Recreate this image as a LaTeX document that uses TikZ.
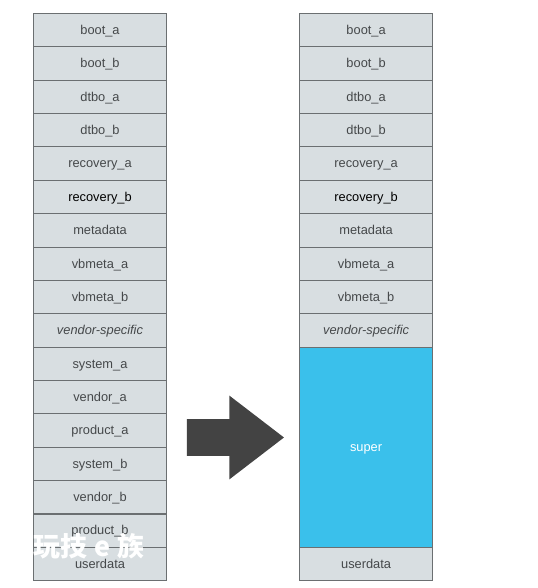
\documentclass[tikz,border=0pt]{standalone}
\usepackage{fontspec}
\setmainfont{Liberation Sans}
\newfontfamily\cjkfont{Noto Sans CJK SC}
\usetikzlibrary{shapes.arrows}
\definecolor{partfill}{HTML}{D8DEE1}
\definecolor{partline}{HTML}{6B6F71}
\definecolor{partink}{HTML}{45484A}
\definecolor{superfill}{HTML}{3AC0EB}
\definecolor{arrowfill}{HTML}{434343}

\begin{document}
\begin{tikzpicture}[
		part/.style  ={rectangle,draw=partline,fill=partfill,line width=0.4pt,minimum width=2.664cm,minimum height=0.6674cm,inner sep=0pt,outer sep=0pt,text=partink,font=\fontsize{7.3}{9}\selectfont,text height=1.5ex,text depth=0.55ex},
		bigpart/.style={part,fill=superfill,minimum height=3.9936cm,text=white},
		bigarrow/.style={single arrow,fill=arrowfill,minimum height=1.94cm,inner xsep=0pt,inner ysep=0.36cm,outer sep=0pt,single arrow head extend=0.47cm,single arrow tip angle=75}
		]

		% ---- page size ----
		\useasboundingbox (0,0) rectangle (10.74,11.76);

		% ---- left column: 17 partitions ----
		\node[part] (lboota)    at (2.0, 11.160) {boot\_a};
		\node[part] (lbootb)    at (2.0, 10.493) {boot\_b};
		\node[part] (ldtboa)    at (2.0,  9.825) {dtbo\_a};
		\node[part] (ldtbob)    at (2.0,  9.158) {dtbo\_b};
		\node[part] (lrecova)   at (2.0,  8.491) {recovery\_a};
		\node[part,text=black] (lrecovb) at (2.0, 7.823) {recovery\_b};
		\node[part] (lmeta)     at (2.0,  7.156) {metadata};
		\node[part] (lvbmetaa)  at (2.0,  6.488) {vbmeta\_a};
		\node[part] (lvbmetab)  at (2.0,  5.821) {vbmeta\_b};
		\node[part,font=\fontsize{7.3}{9}\selectfont\itshape] (lvendor) at (2.0, 5.154) {vendor-specific};
		\node[part] (lsystema)  at (2.0,  4.486) {system\_a};
		\node[part] (lvendora)  at (2.0,  3.819) {vendor\_a};
		\node[part] (lproducta) at (2.0,  3.151) {product\_a};
		\node[part] (lsystemb)  at (2.0,  2.484) {system\_b};
		\node[part] (lvendorb)  at (2.0,  1.817) {vendor\_b};
		\node[part] (lproductb) at (2.0,  1.149) {product\_b};
		\node[part] (luserdata) at (2.0,  0.482) {userdata};

		% ---- right column: dynamic partition in place of the system images ----
		\node[part] (rboota)    at (7.322, 11.160) {boot\_a};
		\node[part] (rbootb)    at (7.322, 10.493) {boot\_b};
		\node[part] (rdtboa)    at (7.322,  9.825) {dtbo\_a};
		\node[part] (rdtbob)    at (7.322,  9.158) {dtbo\_b};
		\node[part] (rrecova)   at (7.322,  8.491) {recovery\_a};
		\node[part,text=black] (rrecovb) at (7.322, 7.823) {recovery\_b};
		\node[part] (rmeta)     at (7.322,  7.156) {metadata};
		\node[part] (rvbmetaa)  at (7.322,  6.488) {vbmeta\_a};
		\node[part] (rvbmetab)  at (7.322,  5.821) {vbmeta\_b};
		\node[part,font=\fontsize{7.3}{9}\selectfont\itshape] (rvendor) at (7.322, 5.154) {vendor-specific};
		\node[bigpart] (rsuper) at (7.322, 2.817) {super};
		\node[part] (ruserdata) at (7.322,  0.482) {userdata};

		% ---- block arrow between the columns ----
		\node[bigarrow] (migrate) at (4.47, 3.01) {};

		% ---- watermark ----
		\node[text=white,font=\cjkfont\bfseries\fontsize{15.3}{17}\selectfont] (mark) at (1.78, 0.84) {玩技\makebox[1.1em]{e}族};

	\end{tikzpicture}
\end{document}
